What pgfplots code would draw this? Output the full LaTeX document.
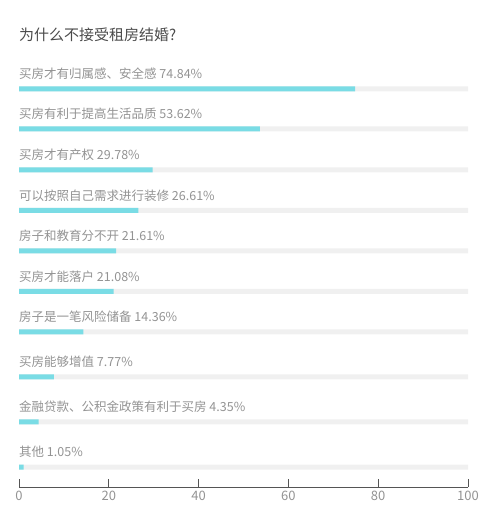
\documentclass[border=0pt]{standalone}
\usepackage{fontspec}
\setmainfont{Noto Sans CJK SC}
\usepackage{pgfplots}
\usepackage{pgfplotstable}
\pgfplotsset{compat=1.18}

\definecolor{barcyan}{HTML}{7ADCE5}
\definecolor{track}{HTML}{F0F0F0}
\definecolor{labelgray}{HTML}{939393}
\definecolor{titlegray}{HTML}{4A4A4A}
\definecolor{axisgray}{HTML}{555555}

% y = position of each bar (pt from the bottom of the picture), val = share in %
\pgfplotstableread{
y      val
427    74.84
387    53.62
346    29.78
305.5  26.61
265    21.61
224.5  21.08
184    14.36
139    7.77
94     4.35
49     1.05
}\reasons

\begin{document}
\begin{tikzpicture}
\begin{axis}[
  scale only axis,
  width=449pt, height=427pt,
  xmin=0, xmax=100, ymin=29, ymax=456,
  clip=false,
  axis x line*=bottom,
  axis y line=none,
  x axis line style={axisgray, line width=0.9pt},
  xtick={0,20,...,100},
  tick align=inside,
  major tick length=8pt,
  tick style={axisgray, line width=0.9pt},
  xticklabel style={labelgray, font=\fontsize{13pt}{15pt}\selectfont, yshift=-1pt},
  /pgf/number format/assume math mode=true,
  xbar, bar width=5pt, bar shift=0pt,
]
\addplot[draw=none, fill=track] table[x expr=100, y=y] {\reasons};
\addplot[draw=none, fill=barcyan] table[x=val, y=y] {\reasons};

\begin{scope}[every node/.style={anchor=west, inner sep=0pt, text=labelgray, font=\fontsize{12.5pt}{14pt}\selectfont}]
\node at (axis cs:0,442) {买房才有归属感、安全感 74.84\%};
\node at (axis cs:0,402) {买房有利于提高生活品质 53.62\%};
\node at (axis cs:0,361) {买房才有产权 29.78\%};
\node at (axis cs:0,320.5) {可以按照自己需求进行装修 26.61\%};
\node at (axis cs:0,280) {房子和教育分不开 21.61\%};
\node at (axis cs:0,239.5) {买房才能落户 21.08\%};
\node at (axis cs:0,199) {房子是一笔风险储备 14.36\%};
\node at (axis cs:0,154) {买房能够增值 7.77\%};
\node at (axis cs:0,109) {金融贷款、公积金政策有利于买房 4.35\%};
\node at (axis cs:0,64) {其他 1.05\%};
\end{scope}

\node[anchor=west, inner sep=0pt, text=titlegray, font=\fontsize{15pt}{18pt}\selectfont] at (axis cs:0,481) {为什么不接受租房结婚?};

% picture frame, 500 x 516
\path (axis cs:-4.2316,0) rectangle (axis cs:107.1269,516);
\end{axis}
\end{tikzpicture}
\end{document}
